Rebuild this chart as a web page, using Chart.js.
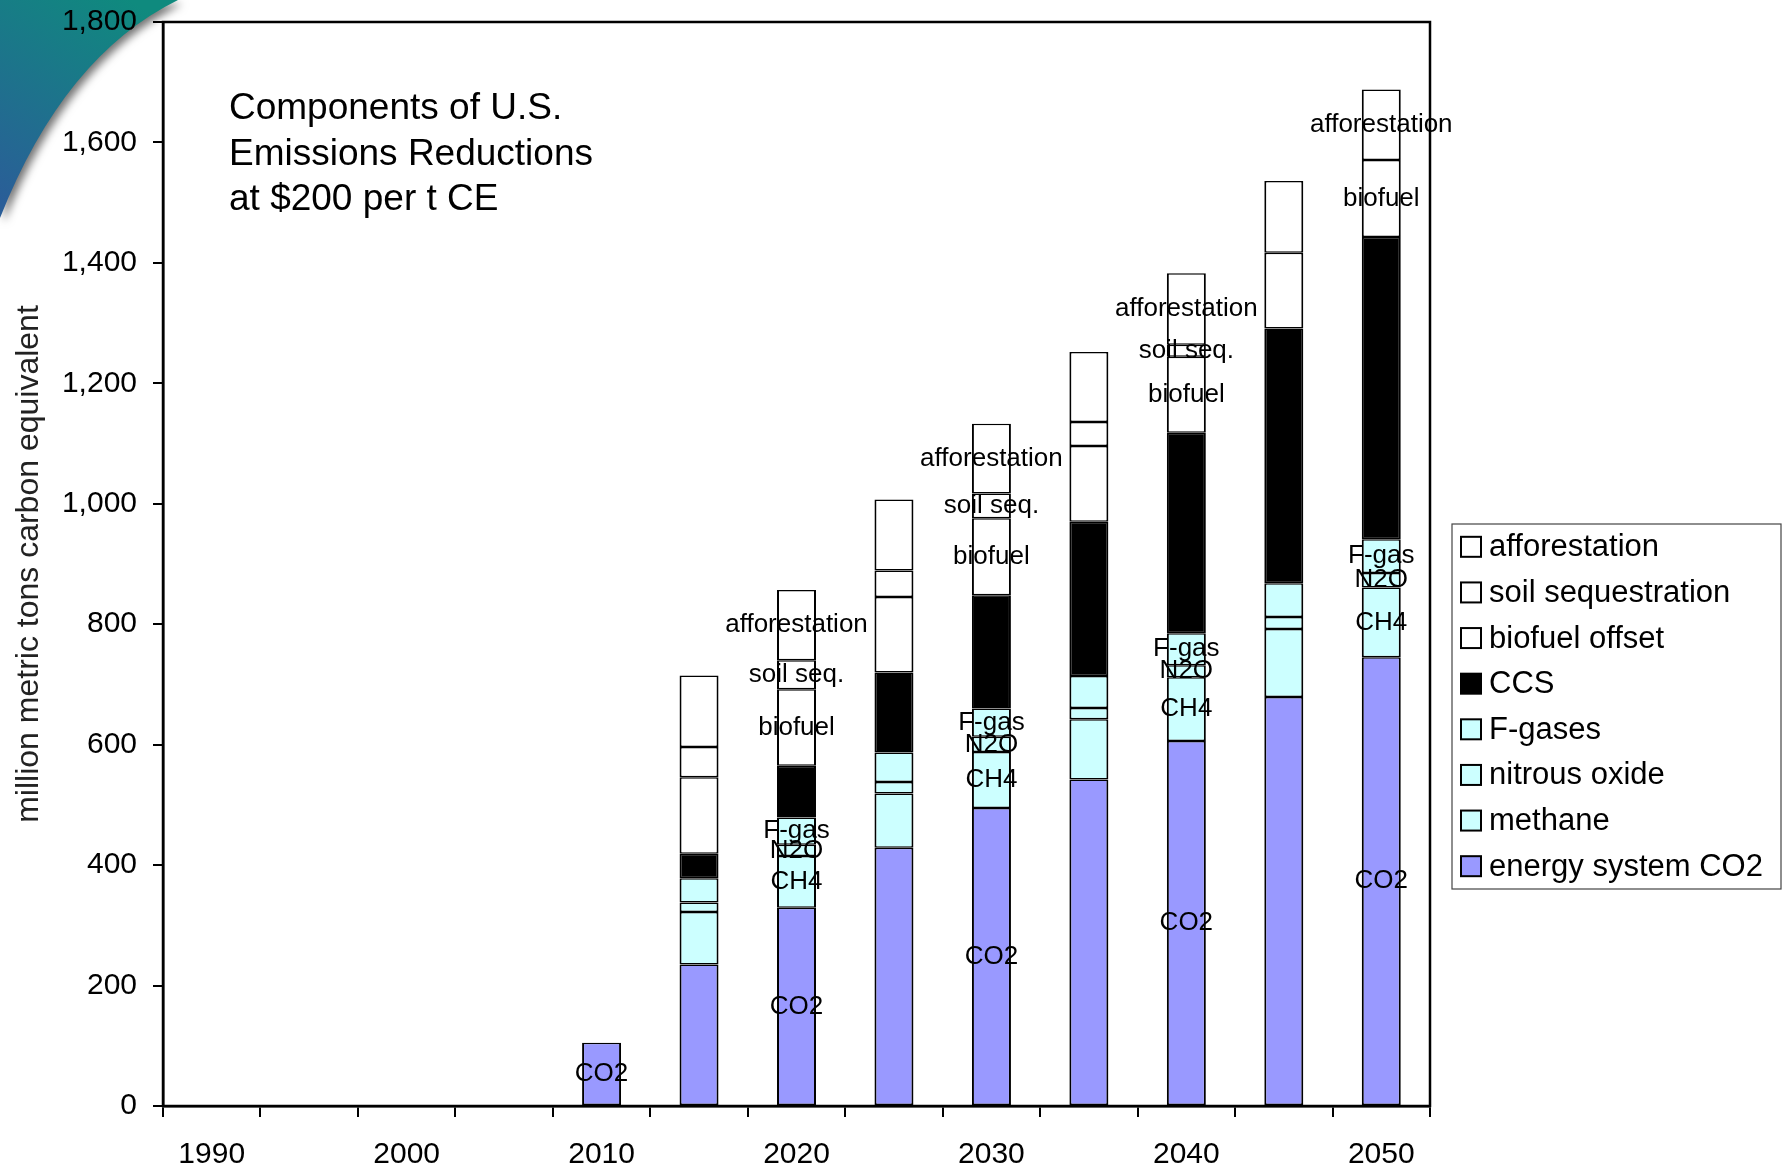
<!DOCTYPE html>
<html>
<head>
<meta charset="utf-8">
<script src="https://cdn.jsdelivr.net/npm/chart.js@4.4.1/dist/chart.umd.min.js"></script>
<style>
  body { margin: 0; background: #fff; }
</style>
</head>
<body>
<canvas id="reductions" width="1789" height="1169"></canvas>
<script>
// million metric tons carbon equivalent, each value is the height of its own slice
var years = ['1990', '1995', '2000', '2005', '2010', '2015', '2020', '2025', '2030', '2035', '2040', '2045', '2050'];
var co2 = [null, null, null, null, 105, 235, 329, 429, 495, 542, 606, 679, 745];
var methane = [null, null, null, null, null, 87, 86, 90, 93, 100, 106, 113, 116];
var nitrous = [null, null, null, null, null, 16, 19, 19, 25, 19, 20, 20, 24];
var fgases = [null, null, null, null, null, 40, 45, 49, 47, 53, 53, 56, 56];
var ccs = [null, null, null, null, null, 41, 86, 133, 188, 256, 333, 423, 502];
var biofuel = [null, null, null, null, null, 127, 127, 125, 128, 126, 126, 126, 128];
var soil = [null, null, null, null, null, 50, 48, 44, 41, 40, 20, null, null];
var afforestation = [null, null, null, null, null, 119, 117, 118, 116, 116, 119, 119, 117];

var seriesNames = ['energy system CO2', 'methane', 'nitrous oxide', 'F-gases', 'CCS', 'biofuel offset', 'soil sequestration', 'afforestation'];
var sliceLabels = ['CO2', 'CH4', 'N2O', 'F-gas', '', 'biofuel', 'soil seq.', 'afforestation'];
var labelledYears = ['2010', '2020', '2030', '2040', '2050'];
var titleLines = ['Components of U.S.', 'Emissions Reductions', 'at $200 per t CE'];

var fillColors = ['#9999FF', '#CCFFFF', '#CCFFFF', '#CCFFFF', '#000000', '#FFFFFF', '#FFFFFF', '#FFFFFF'];
var FONT = '"Liberation Sans", Arial, Helvetica, sans-serif';

Chart.defaults.font.family = FONT;
Chart.defaults.color = '#000';

var allSeries = [co2, methane, nitrous, fgases, ccs, biofuel, soil, afforestation];
var datasets = allSeries.map(function (vals, i) {
  return {
    label: seriesNames[i],
    data: vals,
    backgroundColor: fillColors[i],
    borderColor: '#000',
    borderWidth: { top: 1.5, bottom: 1.5, left: 2, right: 2 },
    borderSkipped: false,
    categoryPercentage: 1,
    barPercentage: 0.4
  };
});

// slide decoration in the top left corner
var swoosh = {
  id: 'swoosh',
  beforeDraw: function (chart) {
    var ctx = chart.ctx;
    ctx.save();
    var g = ctx.createLinearGradient(130, 0, 0, 200);
    g.addColorStop(0, '#0f8a7e');
    g.addColorStop(1, '#2a5e98');
    ctx.shadowColor = 'rgba(0,0,0,0.55)';
    ctx.shadowBlur = 9;
    ctx.shadowOffsetX = 4;
    ctx.shadowOffsetY = 4;
    ctx.beginPath();
    ctx.moveTo(0, 0);
    ctx.lineTo(178, 0);
    ctx.quadraticCurveTo(64, 56, 0, 218);
    ctx.closePath();
    ctx.fillStyle = g;
    ctx.fill();
    ctx.restore();
  }
};

var frameAndText = {
  id: 'frameAndText',
  afterDatasetsDraw: function (chart) {
    var ctx = chart.ctx;
    ctx.save();
    ctx.font = '26px ' + FONT;
    ctx.fillStyle = '#000';
    ctx.textAlign = 'center';
    ctx.textBaseline = 'middle';
    chart.data.datasets.forEach(function (ds, i) {
      if (!sliceLabels[i]) return;
      var meta = chart.getDatasetMeta(i);
      ds.data.forEach(function (v, j) {
        if (!v || labelledYears.indexOf(years[j]) < 0) return;
        var bar = meta.data[j];
        ctx.fillText(sliceLabels[i], bar.x, (bar.y + bar.base) / 2);
      });
    });
    ctx.restore();
  },
  afterDraw: function (chart) {
    var ctx = chart.ctx;
    var a = chart.chartArea;
    ctx.save();
    ctx.strokeStyle = '#000';
    ctx.lineWidth = 2.5;
    ctx.strokeRect(a.left, a.top, a.right - a.left, a.bottom - a.top);

    // title inside the plot
    ctx.font = '37px ' + FONT;
    ctx.fillStyle = '#000';
    ctx.textAlign = 'left';
    ctx.textBaseline = 'middle';
    titleLines.forEach(function (t, k) {
      ctx.fillText(t, 229, 109 + k * 45.6);
    });

    // legend box
    var lx = 1452, ly = 524, lw = 329, lh = 365, row = lh / 8;
    ctx.fillStyle = '#fff';
    ctx.fillRect(lx, ly, lw, lh);
    ctx.strokeStyle = '#444';
    ctx.lineWidth = 1.2;
    ctx.strokeRect(lx, ly, lw, lh);
    ctx.font = '31px ' + FONT;
    for (var k = 0; k < 8; k++) {
      var i = 7 - k;
      var cy = ly + row * (k + 0.5);
      ctx.fillStyle = fillColors[i];
      ctx.fillRect(lx + 9, cy - 10, 20, 20);
      ctx.strokeStyle = '#000';
      ctx.lineWidth = 2;
      ctx.strokeRect(lx + 9, cy - 10, 20, 20);
      ctx.fillStyle = '#000';
      ctx.fillText(seriesNames[i], lx + 37, cy + 1);
    }
    ctx.restore();
  }
};

var chart = new Chart(document.getElementById('reductions'), {
  type: 'bar',
  data: { labels: years, datasets: datasets },
  options: {
    responsive: false,
    animation: false,
    layout: { padding: { top: 22, right: 359, bottom: 0, left: 0 } },
    plugins: {
      legend: { display: false },
      tooltip: { enabled: false }
    },
    scales: {
      x: {
        stacked: true,
        offset: true,
        grid: { offset: true, drawOnChartArea: false, color: '#000', lineWidth: 2, tickLength: 11 },
        border: { display: true, color: '#000', width: 2.5 },
        ticks: {
          autoSkip: false,
          maxRotation: 0,
          padding: 20,
          font: { size: 30 },
          callback: function (v, i) { return i % 2 === 0 ? years[i] : ''; }
        },
        afterFit: function (s) { s.height = 63; s.paddingLeft = 0; s.paddingRight = 0; }
      },
      y: {
        stacked: true,
        min: 0,
        max: 1800,
        grid: { drawOnChartArea: false, color: '#000', lineWidth: 2, tickLength: 10 },
        border: { display: true, color: '#000', width: 2.5 },
        ticks: { stepSize: 200, padding: 16, font: { size: 30 } },
        title: {
          display: true,
          text: 'million metric tons carbon equivalent',
          font: { size: 32 },
          color: '#222',
          padding: { top: 10, bottom: 0 }
        },
        afterFit: function (s) { s.width = 163; s.paddingTop = 0; s.paddingBottom = 0; }
      }
    }
  },
  plugins: [swoosh, frameAndText]
});
</script>
</body>
</html>
